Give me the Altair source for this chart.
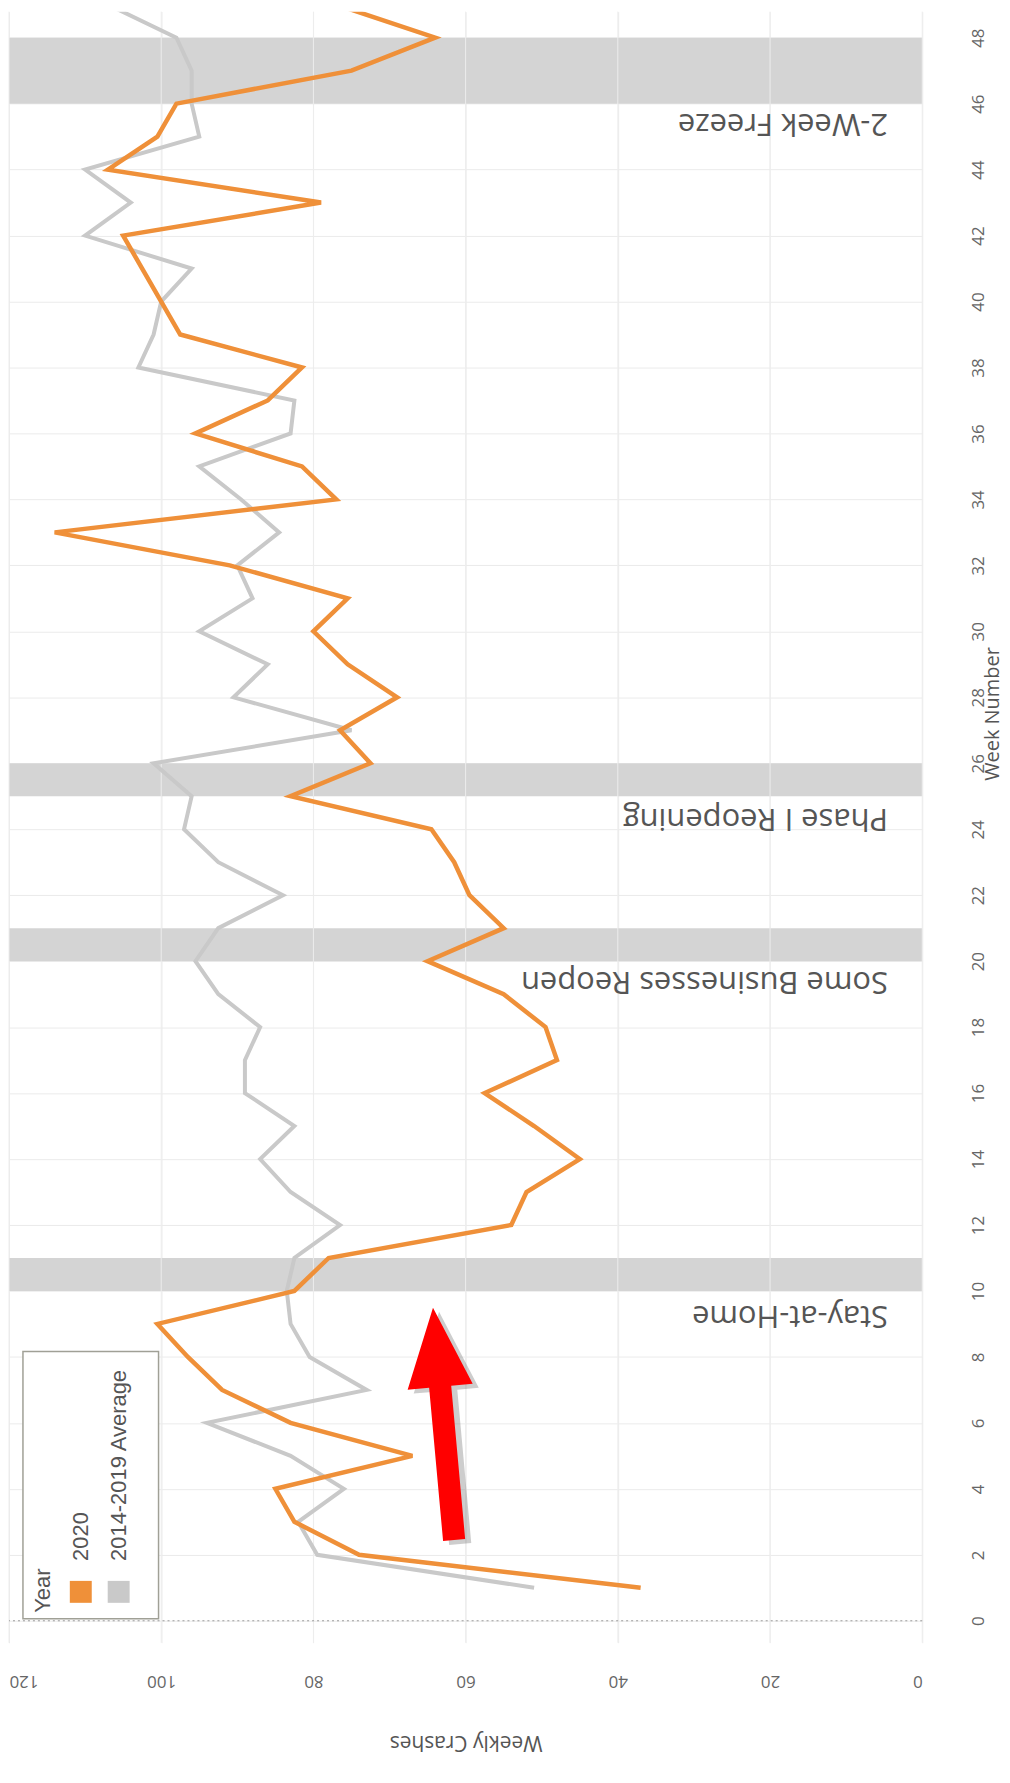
import altair as alt
import pandas as pd

# ---------------- data ----------------
weeks = list(range(1, 50))
crashes_2020 = [37, 74, 82.5, 85, 67, 83, 92, 96.5, 100.5, 82.5,
                78, 54, 52, 45, 51, 57.5, 48, 49.5, 55, 65,
                55, 59.5, 61.5, 64.5, 83, 72.5, 76.5, 69, 75.5, 80,
                75.5, 91, 114, 77, 81.5, 95.5, 86, 81.5, 97.5, 100,
                102.5, 105, 79, 107, 100.5, 98, 75, 64, 77]
crashes_avg = [51, 79.5, 82, 76, 83, 94, 73, 80.5, 83, 83.5,
               82.5, 76.5, 83, 87, 82.5, 89, 89, 87, 92.5, 95.5,
               92.5, 84, 92.5, 97, 96, 101, 75, 90.5, 86, 95,
               88, 90, 84.5, 89.5, 95, 83, 82.5, 103, 101, 100,
               96, 110, 104, 110, 95, 96, 96, 98, 107]

series_names = ["2020", "2014-2019 Average"]
series_colors = ["#EF9039", "#C9C9C9"]

band_start = [10, 20, 25, 46]
band_end = [11, 21, 26, 48]

ann_labels = ["Stay-at-Home", "Some Businesses Reopen", "Phase I Reopening", "2-Week Freeze"]
ann_week = [9.28, 19.4, 24.35, 45.42]
ann_value = [4.5, 4.5, 4.5, 4.5]

arrow_value = [62.9]
arrow_week = [5.97]

crash_ticks = [0, 20, 40, 60, 80, 100, 120]
week_ticks = list(range(0, 49, 2))

# ---------------- layout ----------------
W = 916
H = 1636
xscale = alt.Scale(domain=[0, 120], reverse=True, nice=False, zero=False)
yscale = alt.Scale(domain=[-0.665, 48.79], nice=False, zero=False)

AX_FONT = "Open Sans"

xaxis = alt.Axis(
    values=crash_ticks, orient="bottom", grid=True, gridColor="#EBEBEB", gridWidth=1,
    domain=False, ticks=False,
    labelAngle=180, labelBaseline="bottom",
    labelAlign={"condition": [{"test": "datum.value >= 120", "value": "right"},
                              {"test": "datum.value <= 0", "value": "left"}],
                "value": "center"},
    labelFlush=False, labelOverlap=False, labelPadding=29,
    labelFont=AX_FONT, labelFontSize=17, labelColor="#666666",
    title="Weekly Crashes", titleAngle=180, titleBaseline="bottom",
    titleFont=AX_FONT, titleFontSize=21, titleFontWeight="normal",
    titleColor="#555555", titlePadding=42,
)
yaxis = alt.Axis(
    values=week_ticks, orient="right", grid=True, gridColor="#EBEBEB", gridWidth=1,
    domain=False, ticks=False,
    labelAngle=270, labelAlign="center", labelBaseline="top",
    labelFlush=False, labelOverlap=False, labelPadding=48,
    labelFont=AX_FONT, labelFontSize=17, labelColor="#666666",
    title="Week Number", titleAngle=270, titleBaseline="top",
    titleFont=AX_FONT, titleFontSize=20, titleFontWeight="normal",
    titleColor="#555555", titleX=60, titleY=704,
)

df = pd.DataFrame({
    "week": weeks * 2,
    "value": crashes_2020 + crashes_avg,
    "series": [series_names[0]] * len(weeks) + [series_names[1]] * len(weeks),
})
df_2020 = df[df.series == series_names[0]]
df_avg = df[df.series == series_names[1]]

bands = pd.DataFrame({"start": band_start, "end": band_end})
grid_df = pd.DataFrame({"v": crash_ticks})
zero_df = pd.DataFrame({"w": [0]})
ann_df = pd.DataFrame({"label": ann_labels, "week": ann_week, "value": ann_value})
arrow_df = pd.DataFrame({"value": arrow_value, "week": arrow_week})
one = pd.DataFrame({"a": [0]})

X = lambda f: alt.X(f, scale=xscale, axis=xaxis)
Y = lambda f: alt.Y(f, scale=yscale, axis=yaxis)

bars = alt.Chart(bands).mark_rect(color="#D4D4D4").encode(
    y=Y("start:Q"), y2="end:Q",
    x=alt.value(0), x2=alt.value(W),
)

vgrid = alt.Chart(grid_df).mark_rule(color="#EDEDED", strokeWidth=1).encode(
    x=X("v:Q"),
)

zero_line = alt.Chart(zero_df).mark_rule(color="#9A9A9A", strokeDash=[2, 3], strokeWidth=1).encode(
    y=Y("w:Q"),
)

line_avg = alt.Chart(df_avg).mark_line(color=series_colors[1], strokeWidth=4, clip=True).encode(
    x=X("value:Q"), y=Y("week:Q"), order="week:Q",
)
line_2020 = alt.Chart(df_2020).mark_line(color=series_colors[0], strokeWidth=4.5, clip=True).encode(
    x=X("value:Q"), y=Y("week:Q"), order="week:Q",
)

ann = alt.Chart(ann_df).mark_text(
    angle=180, align="left", baseline="middle", font=AX_FONT, fontSize=31, color="#555555"
).encode(
    x=X("value:Q"), y=Y("week:Q"), text="label:N",
)

ARROW = "M0,-1 L0.28,-0.32 L0.095,-0.32 L0.095,1 L-0.095,1 L-0.095,-0.32 L-0.28,-0.32 Z"
arrow_shadow = alt.Chart(arrow_df).transform_calculate(
    vs="datum.value - 0.8", ws="datum.week - 0.12"
).mark_point(
    shape=ARROW, size=54756, filled=True, color="#707070", opacity=0.35, angle=354.8, strokeWidth=0
).encode(
    x=X("vs:Q"), y=Y("ws:Q"),
)
arrow = alt.Chart(arrow_df).mark_point(
    shape=ARROW, size=54756, filled=True, color="#FF0000", opacity=1, angle=354.8, strokeWidth=0
).encode(
    x=X("value:Q"), y=Y("week:Q"),
)

# custom rotated legend
LEG_FONT = "Liberation Sans"
leg_box = alt.Chart(one).mark_rect(fill="white", stroke="#A0A096", strokeWidth=1.5).encode(
    x=alt.value(14), x2=alt.value(150), y=alt.value(1344), y2=alt.value(1612)
)
leg_title = alt.Chart(one).mark_text(
    text="Year", angle=270, align="left", baseline="middle", font=LEG_FONT, fontSize=22, color="#555555"
).encode(x=alt.value(34), y=alt.value(1606))
leg_sw1 = alt.Chart(one).mark_rect(color=series_colors[0]).encode(
    x=alt.value(61), x2=alt.value(83), y=alt.value(1574), y2=alt.value(1596))
leg_sw2 = alt.Chart(one).mark_rect(color=series_colors[1]).encode(
    x=alt.value(99), x2=alt.value(121), y=alt.value(1574), y2=alt.value(1596))
leg_t1 = alt.Chart(one).mark_text(
    text=series_names[0], angle=270, align="left", baseline="middle", font=LEG_FONT, fontSize=22, color="#555555"
).encode(x=alt.value(72), y=alt.value(1554))
leg_t2 = alt.Chart(one).mark_text(
    text=series_names[1], angle=270, align="left", baseline="middle", font=LEG_FONT, fontSize=22, color="#555555"
).encode(x=alt.value(110), y=alt.value(1554))

chart = alt.layer(
    bars, vgrid, zero_line, line_avg, line_2020, ann, arrow_shadow, arrow,
    leg_box, leg_title, leg_sw1, leg_sw2, leg_t1, leg_t2,
).properties(
    width=W, height=H, padding=0, background="white"
).configure_view(stroke=None)

chart.save("out.html", embed_options={"renderer": "svg", "actions": False})
